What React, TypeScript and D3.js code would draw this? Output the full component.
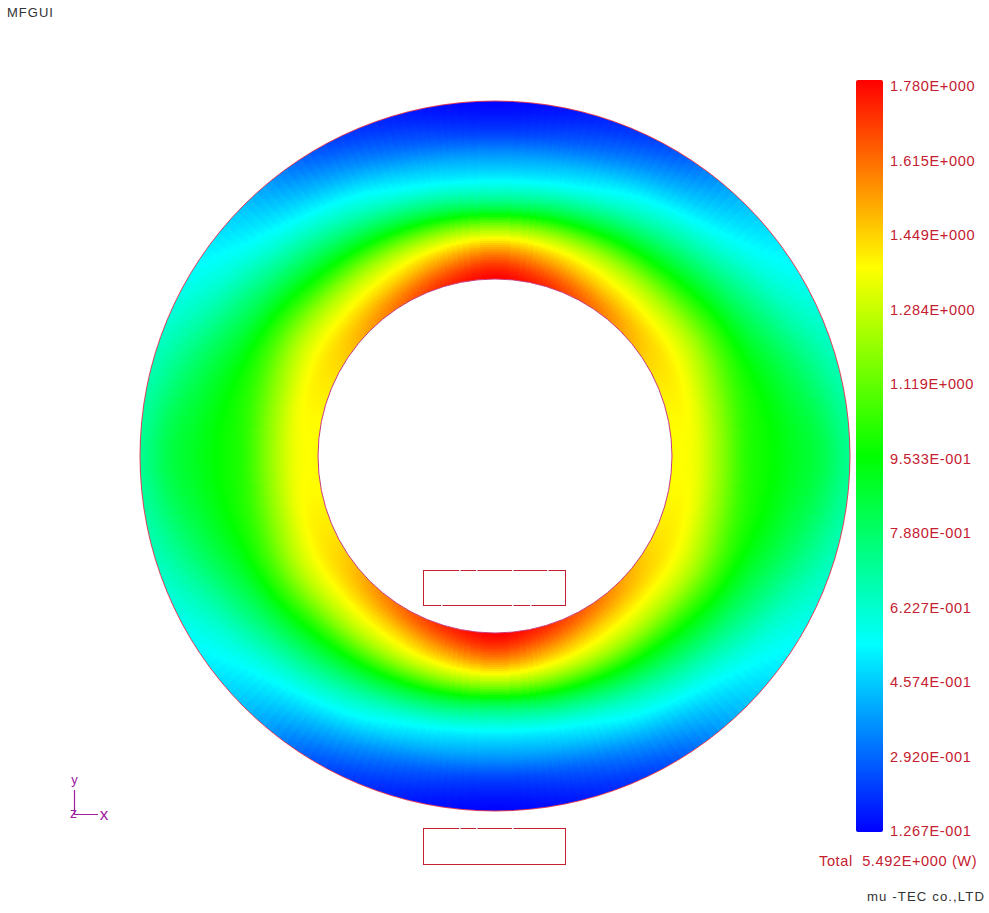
import React, { useEffect } from 'react';
import * as d3 from 'd3';

// radial stations (px from centre) and elevation angles the field was read at
const radii = [177, 200, 225, 250, 275, 300, 325, 355];
const angles = [0, 15, 30, 45, 60, 75, 90];

const lossAt0 = [1.37, 1.34, 1.19, 1.02, 0.96, 0.9, 0.84, 0.72];
const lossAt15 = [1.38, 1.36, 1.21, 1.04, 0.94, 0.85, 0.76, 0.66];
const lossAt30 = [1.43, 1.39, 1.25, 1.05, 0.87, 0.74, 0.63, 0.56];
const lossAt45 = [1.52, 1.41, 1.23, 0.98, 0.78, 0.62, 0.51, 0.44];
const lossAt60 = [1.62, 1.45, 1.23, 0.92, 0.68, 0.52, 0.38, 0.26];
const lossAt75 = [1.72, 1.53, 1.24, 0.85, 0.58, 0.42, 0.27, 0.17];
const lossAt90 = [1.78, 1.6, 1.25, 0.8, 0.54, 0.38, 0.22, 0.13];

const colorValues = [0.1267, 0.54, 0.953, 1.367, 1.78];
const colorNames = ['#0000ff', '#00ffff', '#00ff00', '#ffff00', '#ff0000'];

const tickLabels = [
  '1.780E+000', '1.615E+000', '1.449E+000', '1.284E+000', '1.119E+000', '9.533E-001',
  '7.880E-001', '6.227E-001', '4.574E-001', '2.920E-001', '1.267E-001',
];

// little breaks in the coil outlines
const upperCoilTopGaps = [459, 476, 512, 547];
const upperCoilBottomGaps = [441, 512, 530];
const lowerCoilTopGaps = [459, 476, 512];

const RED = '#c4202f';
const PURPLE = '#a0209f';

// cubic shading through four neighbouring readings
const cubic = (a: number, b: number, c: number, d: number, t: number) =>
  b + 0.5 * t * (c - a + t * (2 * a - 5 * b + 4 * c - d + t * (3 * (b - c) + d - a)));

const App: React.FC = () => {
  const svgRef = React.useRef<SVGSVGElement>(null);

  useEffect(() => {
    const svg = d3.select(svgRef.current);
    svg.selectAll('*').remove();

    const cx = 495;
    const cy = 456;
    const rows = [lossAt0, lossAt15, lossAt30, lossAt45, lossAt60, lossAt75, lossAt90];

    const color = d3.scaleLinear<string>().domain(colorValues).range(colorNames).clamp(true);
    const angleIndex = d3.scaleLinear().domain(angles).range(d3.range(angles.length));
    const radiusIndex = d3.scaleLinear().domain(radii).range(d3.range(radii.length));

    const alongRadius = (row: number[], r: number) => {
      const p = radiusIndex(r);
      const i = Math.min(Math.floor(p), row.length - 2);
      const at = (k: number) => row[Math.max(0, Math.min(row.length - 1, k))];
      return cubic(at(i - 1), at(i), at(i + 1), at(i + 2), p - i);
    };

    // the ring is mirrored about both axes, so rows reflect at the ends
    const field = (elev: number, r: number) => {
      const p = angleIndex(elev);
      const i = Math.min(Math.floor(p), rows.length - 2);
      const at = (k: number) => {
        const n = rows.length - 1;
        const m = k < 0 ? -k : k > n ? 2 * n - k : k;
        return alongRadius(rows[m], r);
      };
      return cubic(at(i - 1), at(i), at(i + 1), at(i + 2), p - i);
    };

    const ring = svg.append('g')
      .attr('transform', `translate(${cx},${cy})`)
      .attr('shape-rendering', 'crispEdges');
    const arc = d3.arc();
    const dA = 1.5;
    const dR = 2;
    const rMin = radii[0];
    const rMax = radii[radii.length - 1];
    d3.range(0, 360, dA).forEach(a => {
      const mid = ((a + dA / 2) * Math.PI) / 180;
      const elev = (Math.asin(Math.abs(Math.cos(mid))) * 180) / Math.PI;
      d3.range(rMin, rMax, dR).forEach(r => {
        ring.append('path')
          .attr('d', arc({
            innerRadius: r,
            outerRadius: Math.min(r + dR, rMax),
            startAngle: (a * Math.PI) / 180,
            endAngle: ((a + dA) * Math.PI) / 180,
          }) as string)
          .attr('fill', color(field(elev, r + dR / 2)));
      });
    });

    const outline = svg.append('g').attr('transform', `translate(${cx},${cy})`);
    outline.append('circle').attr('r', rMax).attr('fill', 'none').attr('stroke', '#e2405c').attr('stroke-width', 1);
    outline.append('circle').attr('r', rMin).attr('fill', '#fff').attr('stroke', '#c83a78').attr('stroke-width', 1);

    // coil rectangles
    [570, 828].forEach((y, i) => {
      svg.append('rect')
        .attr('x', 423.5)
        .attr('y', y + 0.5)
        .attr('width', 142)
        .attr('height', i === 0 ? 35 : 36)
        .attr('fill', 'none')
        .attr('stroke', RED)
        .attr('stroke-width', 1);
    });
    const gap = (x: number, y: number) =>
      svg.append('rect').attr('x', x).attr('y', y).attr('width', 1.5).attr('height', 1).attr('fill', '#fff');
    upperCoilTopGaps.forEach(x => gap(x, 570));
    upperCoilBottomGaps.forEach(x => gap(x, 605));
    lowerCoilTopGaps.forEach(x => gap(x, 828));

    // colour bar
    const barY = d3.scaleLinear().domain([colorValues[0], colorValues[4]]).range([832, 80]);
    const grad = svg.append('defs').append('linearGradient')
      .attr('id', 'bar')
      .attr('x1', 0).attr('x2', 0).attr('y1', 1).attr('y2', 0);
    colorValues.forEach((v, i) => {
      grad.append('stop')
        .attr('offset', (832 - barY(v)) / 752)
        .attr('stop-color', colorNames[i]);
    });
    svg.append('rect')
      .attr('x', 856).attr('y', 80).attr('width', 27).attr('height', 752)
      .attr('rx', 2)
      .attr('fill', 'url(#bar)');

    const labelY = d3.scalePoint<string>().domain(tickLabels).range([91, 836]);
    const font = '"Liberation Sans", Arial, sans-serif';
    svg.selectAll('.tick-label')
      .data(tickLabels)
      .enter()
      .append('text')
      .attr('class', 'tick-label')
      .attr('x', 890)
      .attr('y', d => labelY(d) as number)
      .attr('font-family', font)
      .attr('font-size', 14.6)
      .attr('fill', RED)
      .style('letter-spacing', '0.6px')
      .text(d => d);

    const label = (x: number, y: number, s: string, size: number, fill: string, anchor = 'start') =>
      svg.append('text')
        .attr('x', x).attr('y', y)
        .attr('font-family', font)
        .attr('font-size', size)
        .attr('fill', fill)
        .attr('text-anchor', anchor)
        .text(s);

    label(819, 866, 'Total  5.492E+000 (W)', 14.6, RED)
      .style('white-space', 'pre')
      .style('letter-spacing', '0.6px');
    label(867, 901, 'mu -TEC co.,LTD', 13.2, '#333').style('letter-spacing', '1.1px');
    label(7, 17, 'MFGUI', 13, '#333').style('letter-spacing', '1px');

    // axis triad
    svg.append('path')
      .attr('d', d3.line()([[74.5, 790], [74.5, 814.5], [98, 814.5]]) as string)
      .attr('fill', 'none')
      .attr('stroke', PURPLE)
      .attr('stroke-width', 1.2);
    label(74.5, 784, 'y', 13, PURPLE, 'middle');
    label(73.5, 818, 'z', 14, PURPLE, 'middle');
    label(104, 820, 'x', 17, PURPLE, 'middle');
  }, []);

  return <svg ref={svgRef} width={989} height={913} style={{ position: 'absolute', left: 0, top: 0, background: '#fff' }} />;
};

export default App;
